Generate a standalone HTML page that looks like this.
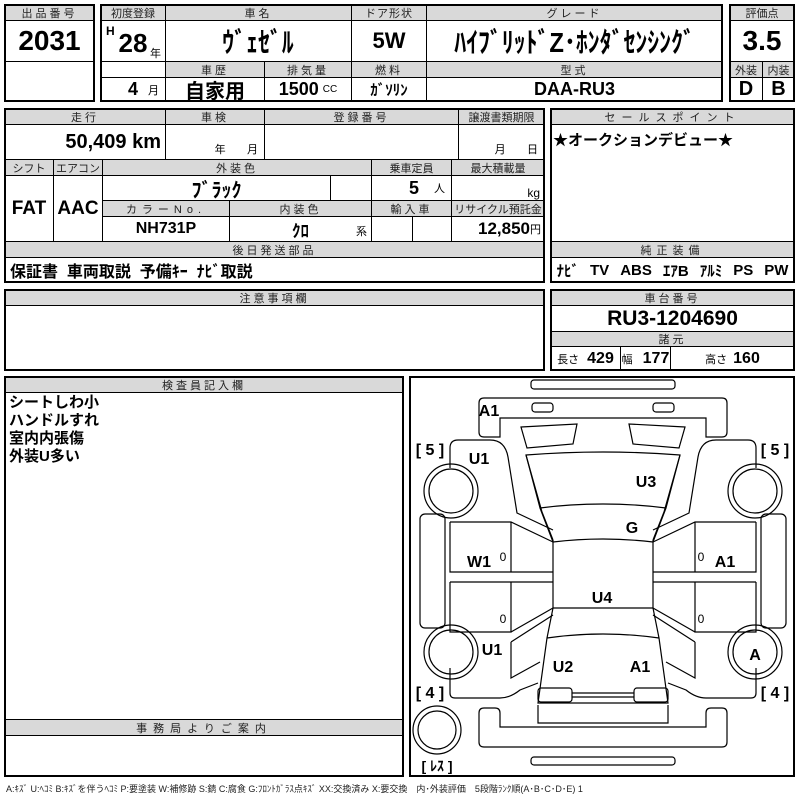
<!DOCTYPE html>
<html><head><meta charset="utf-8"><style>
*{margin:0;padding:0;box-sizing:border-box}
body{width:800px;height:800px;background:#fff;position:relative;overflow:hidden;font-family:"Liberation Sans","Noto Sans CJK JP",sans-serif;color:#000}
.c{position:absolute;border:1px solid #000;display:flex;align-items:center;justify-content:center;white-space:nowrap;overflow:hidden}
.h{background:#d9d9d9;font-size:11px;letter-spacing:3px;color:#222}
.b{font-weight:bold}
.o{position:absolute;border:2px solid #000}
.n{display:inline-block;transform:scaleX(0.85)}
</style></head><body>
<div class="c h" style="left:4px;top:4px;width:91px;height:17px">出品番号</div>
<div class="c b" style="left:4px;top:20px;width:91px;height:42px;font-size:28px">2031</div>
<div class="c" style="left:4px;top:61px;width:91px;height:41px"></div>
<div class="o" style="left:4px;top:4px;width:91px;height:98px"></div>
<div class="c h" style="left:100px;top:4px;width:66px;height:17px;letter-spacing:0">初度登録</div>
<div class="c h" style="left:165px;top:4px;width:187px;height:17px">車名</div>
<div class="c h" style="left:351px;top:4px;width:76px;height:17px;letter-spacing:1px">ドア形状</div>
<div class="c h" style="left:426px;top:4px;width:297px;height:17px">グレード</div>
<div class="c b" style="left:100px;top:20px;width:66px;height:42px"><span style="position:absolute;left:5px;top:3px;font-size:12px">H</span><span style="font-size:26px;margin-top:4px">28</span><span style="position:absolute;right:4px;bottom:0;font-size:11px;font-weight:normal">年</span></div>
<div class="c b" style="left:165px;top:20px;width:187px;height:42px;font-size:28px"><span class="n">ｳﾞｪｾﾞﾙ</span></div>
<div class="c b" style="left:351px;top:20px;width:76px;height:42px;font-size:22px">5W</div>
<div class="c b" style="left:426px;top:20px;width:297px;height:42px;font-size:28px"><span class="n">ﾊｲﾌﾞﾘｯﾄﾞZ･ﾎﾝﾀﾞｾﾝｼﾝｸﾞ</span></div>
<div class="c" style="left:100px;top:61px;width:66px;height:41px"></div>
<div class="c h" style="left:165px;top:61px;width:100px;height:17px">車歴</div>
<div class="c h" style="left:264px;top:61px;width:88px;height:17px">排気量</div>
<div class="c h" style="left:351px;top:61px;width:76px;height:17px">燃料</div>
<div class="c h" style="left:426px;top:61px;width:297px;height:17px">型式</div>
<div class="c b" style="left:100px;top:77px;width:66px;height:25px;font-size:18px;justify-content:flex-end;padding-right:6px">4&nbsp;&nbsp;<span style="font-size:11px;font-weight:normal">月</span></div>
<div class="c b" style="left:165px;top:77px;width:100px;height:25px;font-size:20px">自家用</div>
<div class="c b" style="left:264px;top:77px;width:88px;height:25px;font-size:18px">1500 <span style="font-size:10px;font-weight:normal;margin-left:4px">CC</span></div>
<div class="c b" style="left:351px;top:77px;width:76px;height:25px;font-size:15px">ｶﾞｿﾘﾝ</div>
<div class="c b" style="left:426px;top:77px;width:297px;height:25px;font-size:18px">DAA-RU3</div>
<div class="o" style="left:100px;top:4px;width:623px;height:98px"></div>
<div class="c h" style="left:729px;top:4px;width:66px;height:17px;letter-spacing:0">評価点</div>
<div class="c b" style="left:729px;top:20px;width:66px;height:42px;font-size:28px">3.5</div>
<div class="c h" style="left:729px;top:61px;width:34px;height:17px;letter-spacing:0">外装</div>
<div class="c h" style="left:762px;top:61px;width:33px;height:17px;letter-spacing:0">内装</div>
<div class="c b" style="left:729px;top:77px;width:34px;height:25px;font-size:20px">D</div>
<div class="c b" style="left:762px;top:77px;width:33px;height:25px;font-size:20px">B</div>
<div class="o" style="left:729px;top:4px;width:66px;height:98px"></div>
<div class="c h" style="left:4px;top:108px;width:162px;height:17px">走行</div>
<div class="c h" style="left:165px;top:108px;width:100px;height:17px">車検</div>
<div class="c h" style="left:264px;top:108px;width:195px;height:17px">登録番号</div>
<div class="c h" style="left:458px;top:108px;width:87px;height:17px;letter-spacing:0">譲渡書類期限</div>
<div class="c b" style="left:4px;top:124px;width:162px;height:36px;font-size:20px;justify-content:flex-end;padding-right:4px">50,409 km</div>
<div class="c" style="left:165px;top:124px;width:100px;height:36px;font-size:11px;align-items:flex-end;padding-bottom:2px;justify-content:flex-end;padding-right:6px">年&nbsp;&nbsp;&nbsp;&nbsp;&nbsp;&nbsp;&nbsp;月</div>
<div class="c" style="left:264px;top:124px;width:195px;height:36px"></div>
<div class="c" style="left:458px;top:124px;width:87px;height:36px;font-size:11px;align-items:flex-end;padding-bottom:2px;justify-content:flex-end;padding-right:6px">月&nbsp;&nbsp;&nbsp;&nbsp;&nbsp;&nbsp;&nbsp;日</div>
<div class="c h" style="left:4px;top:159px;width:50px;height:17px;letter-spacing:0">シフト</div>
<div class="c h" style="left:53px;top:159px;width:50px;height:17px;letter-spacing:0">エアコン</div>
<div class="c h" style="left:102px;top:159px;width:270px;height:17px">外装色</div>
<div class="c h" style="left:371px;top:159px;width:81px;height:17px;letter-spacing:0">乗車定員</div>
<div class="c h" style="left:451px;top:159px;width:94px;height:17px;letter-spacing:0">最大積載量</div>
<div class="c b" style="left:4px;top:175px;width:50px;height:67px;font-size:19px">FAT</div>
<div class="c b" style="left:53px;top:175px;width:50px;height:67px;font-size:19px">AAC</div>
<div class="c b" style="left:102px;top:175px;width:229px;height:26px;font-size:20px">ﾌﾞﾗｯｸ</div>
<div class="c" style="left:330px;top:175px;width:42px;height:26px"></div>
<div class="c b" style="left:371px;top:175px;width:81px;height:26px;font-size:18px;justify-content:flex-end;padding-right:6px">5&nbsp;&nbsp;&nbsp;<span style="font-size:11px;font-weight:normal">人</span></div>
<div class="c" style="left:451px;top:175px;width:94px;height:26px;font-size:12px;justify-content:flex-end;padding-right:4px;align-items:flex-end">kg</div>
<div class="c h" style="left:102px;top:200px;width:128px;height:17px;letter-spacing:5px">カラーNo.</div>
<div class="c h" style="left:229px;top:200px;width:143px;height:17px">内装色</div>
<div class="c h" style="left:371px;top:200px;width:81px;height:17px">輸入車</div>
<div class="c h" style="left:451px;top:200px;width:94px;height:17px;letter-spacing:0">リサイクル預託金</div>
<div class="c b" style="left:102px;top:216px;width:128px;height:26px;font-size:16px">NH731P</div>
<div class="c b" style="left:229px;top:216px;width:143px;height:26px;font-size:17px">ｸﾛ<span style="position:absolute;right:4px;bottom:2px;font-size:11px;font-weight:normal">系</span></div>
<div class="c" style="left:371px;top:216px;width:42px;height:26px"></div>
<div class="c" style="left:412px;top:216px;width:40px;height:26px"></div>
<div class="c b" style="left:451px;top:216px;width:94px;height:26px;font-size:17px;justify-content:flex-end;padding-right:3px">12,850<span style="font-size:11px;font-weight:normal">円</span></div>
<div class="c h" style="left:4px;top:241px;width:541px;height:17px">後日発送部品</div>
<div class="c b" style="left:4px;top:257px;width:541px;height:26px;font-size:16px;justify-content:flex-start;padding-left:5px">保証書&nbsp; 車両取説&nbsp; 予備ｷｰ&nbsp; ﾅﾋﾞ取説</div>
<div class="o" style="left:4px;top:108px;width:541px;height:175px"></div>
<div class="c h" style="left:550px;top:108px;width:245px;height:17px;letter-spacing:6px">セールスポイント</div>
<div class="c b" style="left:550px;top:124px;width:245px;height:118px;font-size:15px;align-items:flex-start;justify-content:flex-start;padding:4px 2px">★オークションデビュー★</div>
<div class="c h" style="left:550px;top:241px;width:245px;height:17px;letter-spacing:5px">純正装備</div>
<div class="c b" style="left:550px;top:257px;width:245px;height:26px;font-size:15px;justify-content:space-around">ﾅﾋﾞ<span>TV</span><span>ABS</span><span>ｴｱB</span><span>ｱﾙﾐ</span><span>PS</span><span>PW</span></div>
<div class="o" style="left:550px;top:108px;width:245px;height:175px"></div>
<div class="c h" style="left:4px;top:289px;width:541px;height:17px">注意事項欄</div>
<div class="o" style="left:4px;top:289px;width:541px;height:82px"></div>
<div class="c h" style="left:550px;top:289px;width:245px;height:17px">車台番号</div>
<div class="c b" style="left:550px;top:305px;width:245px;height:27px;font-size:21px">RU3-1204690</div>
<div class="c h" style="left:550px;top:331px;width:245px;height:16px">諸元</div>
<div class="c b" style="left:550px;top:346px;width:71px;height:25px;font-size:16px"><span style="font-size:11px;font-weight:normal;margin-right:8px">長さ</span>429</div>
<div class="c b" style="left:620px;top:346px;width:51px;height:25px;font-size:16px"><span style="font-size:11px;font-weight:normal;margin-right:10px">幅</span>177</div>
<div class="c b" style="left:670px;top:346px;width:125px;height:25px;font-size:16px"><span style="font-size:11px;font-weight:normal;margin-right:6px">高さ</span>160</div>
<div class="o" style="left:550px;top:289px;width:245px;height:82px"></div>
<div class="c h" style="left:4px;top:376px;width:400px;height:17px">検査員記入欄</div>
<div style="position:absolute;left:9px;top:394px;font-size:15px;font-weight:bold;line-height:18px">シートしわ小<br>ハンドルすれ<br>室内内張傷<br>外装U多い</div>
<div class="c h" style="left:4px;top:719px;width:400px;height:17px;letter-spacing:6px">事務局よりご案内</div>
<div class="o" style="left:4px;top:376px;width:400px;height:401px"></div>
<div class="o" style="left:409px;top:376px;width:386px;height:401px"></div>
<div style="position:absolute;left:6px;top:782px;font-size:9px;white-space:nowrap;color:#222">A:ｷｽﾞ U:ﾍｺﾐ B:ｷｽﾞを伴うﾍｺﾐ P:要塗装 W:補修跡 S:錆 C:腐食 G:ﾌﾛﾝﾄｶﾞﾗｽ点ｷｽﾞ XX:交換済み X:要交換　内･外装評価　5段階ﾗﾝｸ順(A･B･C･D･E) 1</div>
<svg width="800" height="800" style="position:absolute;left:0;top:0" fill="none" stroke="#000" stroke-width="1.2">
<g id="half">
<path d="M603,398 H484 q-5,0 -5,5 V432 q0,5 5,5 H500 V418 H603"/>
<rect x="532" y="403" width="21" height="9" rx="3"/>
<path d="M521,427 L577,424 L573,444 L527,448 Z"/>
<path d="M603,452 Q565,452 526,455 L540,508 Q570,504 603,504"/>
<path d="M540,508 L553,542 Q578,539 603,539"/>
<path d="M450,468 V448 Q450,440 458,440 H490 Q505,440 508,457 L517,513 L553,530"/>
<path d="M526,455 L542,512 L553,540"/>
<circle cx="451" cy="491" r="27"/><circle cx="451" cy="491" r="22"/>
<rect x="420" y="514" width="25" height="114" rx="5"/>
<path d="M450,522 H511 L553,542 M511,522 V572 M450,522 V572 H553 M450,582 H553 M450,582 V632 H511 V582 M511,632 L553,608"/>
<path d="M553,540 V608 H603"/>
<circle cx="451" cy="652" r="27"/><circle cx="451" cy="652" r="22"/>
<path d="M511,642 L553,615 M511,642 V678 L540,662"/>
<path d="M450,668 V693 Q450,698 455,698 H500 Q510,698 520,690 L538,683"/>
<path d="M553,608 L547,638 L538,703 H603 M547,638 Q575,634 603,634"/>
<rect x="538" y="688" width="34" height="14" rx="3"/>
<path d="M572,693 H603 M572,697 H603"/>
<path d="M538,705 V723 H603"/>
<path d="M603,747 H484 q-5,0 -5,-5 V713 q0,-5 5,-5 H495 q5,0 5,5 V727 H603"/>
</g>
<use href="#half" transform="translate(1206,0) scale(-1,1)"/>
<rect x="531" y="380" width="144" height="9" rx="3"/>
<rect x="531" y="757" width="144" height="8" rx="3"/>
<circle cx="437" cy="730" r="24"/><circle cx="437" cy="730" r="19"/>
<g fill="#000" stroke="none" font-family="Liberation Sans, sans-serif" font-weight="bold" font-size="16" text-anchor="middle">
<text x="489" y="416">A1</text>
<text x="479" y="464">U1</text>
<text x="646" y="487">U3</text>
<text x="632" y="533">G</text>
<text x="479" y="567">W1</text>
<text x="725" y="567">A1</text>
<text x="602" y="603">U4</text>
<text x="492" y="655">U1</text>
<text x="563" y="672">U2</text>
<text x="640" y="672">A1</text>
<text x="755" y="660">A</text>
<text x="430" y="455">[ 5 ]</text>
<text x="775" y="455">[ 5 ]</text>
<text x="430" y="698">[ 4 ]</text>
<text x="775" y="698">[ 4 ]</text>
<text x="437" y="771" font-size="14" font-family="Liberation Sans, Noto Sans CJK JP, sans-serif">[ ﾚｽ ]</text>
<g font-weight="normal" font-size="12"><text x="503" y="561">0</text><text x="503" y="623">0</text><text x="701" y="561">0</text><text x="701" y="623">0</text></g>
</g>
</svg>
</body></html>
